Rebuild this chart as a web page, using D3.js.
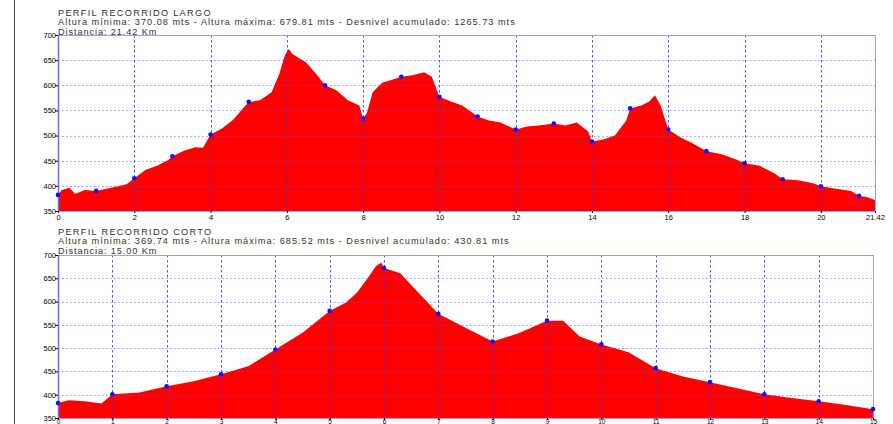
<!DOCTYPE html>
<html><head><meta charset="utf-8">
<script src="https://cdn.jsdelivr.net/npm/d3@7"></script>
<style>
html,body{margin:0;padding:0;background:#fff;}
svg{display:block;font-family:"Liberation Sans",Arial,sans-serif;}
</style></head>
<body>
<svg id="c" width="893" height="424"></svg>
<script>
// ---- Data: long route (km, altitude m) ----
const longDist = [0,0.1,0.3,0.45,0.7,1,1.4,1.8,2,2.3,2.6,2.9,3,3.3,3.6,3.8,4,4.3,4.6,4.8,5,5.3,5.6,5.8,5.95,6.05,6.15,6.3,6.5,6.8,7,7.3,7.6,7.9,8,8.1,8.25,8.5,8.8,9,9.3,9.6,9.8,10,10.3,10.6,11,11.3,11.6,12,12.3,12.6,13,13.3,13.6,13.9,14,14.3,14.6,14.9,15,15.3,15.5,15.65,15.8,16,16.3,16.6,17,17.4,17.8,18,18.4,18.8,19,19.4,19.8,20,20.4,20.8,21,21.2,21.42];
const longAlt  = [382,392,396,384,392,390,396,403,415,432,440,452,459,470,477,476,502,514,532,550,567,570,586,622,660,672,662,655,646,620,600,590,570,560,534,545,586,605,612,617,620,626,617,577,568,560,538,530,526,512,518,520,524,520,526,508,488,492,500,530,554,560,568,580,560,512,497,486,469,463,452,445,440,424,413,411,405,399,394,390,380,378,372];
// ---- Data: short route ----
const shortDist = [0,0.2,0.5,0.8,1,1.5,2,2.5,3,3.5,4,4.5,5,5.3,5.5,5.7,5.85,5.95,6,6.3,6.6,7,7.5,8,8.5,9,9.3,9.6,10,10.5,11,11.5,12,12.5,13,13.5,14,14.5,15];
const shortAlt  = [382,388,386,381,401,405,418,429,444,461,497,533,580,598,619,650,676,684,672,661,623,574,544,514,533,559,559,525,508,491,457,439,427,414,401,393,386,378,369];

const longTitle  = ["PERFIL RECORRIDO LARGO",
  "Altura mínima: 370.08 mts - Altura máxima: 679.81 mts - Desnivel acumulado: 1265.73 mts",
  "Distancia: 21.42 Km"];
const shortTitle = ["PERFIL RECORRIDO CORTO",
  "Altura mínima: 369.74 mts - Altura máxima: 685.52 mts - Desnivel acumulado: 430.81 mts",
  "Distancia: 15.00 Km"];
const yTicks = [350,400,450,500,550,600,650,700];
const longXTicks  = [0,2,4,6,8,10,12,14,16,18,20,21.42];
const shortXTicks = [0,1,2,3,4,5,6,7,8,9,10,11,12,13,14,15];

const svg = d3.select("#c");

// page left border
svg.append("line").attr("x1",14.5).attr("x2",14.5).attr("y1",0).attr("y2",424)
  .attr("stroke","#444").attr("stroke-width",1);

function panel(cfg){
  const {dist, alt, xTicks, xMax, left, right, top, bottom, titles, titleY, labelY, labelSize} = cfg;
  const x = d3.scaleLinear().domain([0,xMax]).range([left,right]);
  const y = d3.scaleLinear().domain([350,700]).range([bottom,top]);
  const g = svg.append("g");
  const pts = dist.map((d,i)=>({d, a:alt[i]}));

  // titles
  const spacing = [1.3, 1.0, 0.9];
  titles.forEach((t,i)=>{
    g.append("text").attr("x",58).attr("y",titleY+i*9.3)
      .attr("font-size",9.2).attr("fill","#333").attr("letter-spacing",spacing[i]).text(t);
  });

  // area
  g.append("path").datum(pts)
    .attr("d", d3.area().x(p=>x(p.d)).y0(bottom).y1(p=>y(p.a)))
    .attr("fill","#ff0000");

  // horizontal grid (dotted)
  g.append("g").selectAll("line").data(yTicks.slice(1,-1)).join("line")
    .attr("x1",left).attr("x2",right).attr("y1",v=>Math.round(y(v))+0.5).attr("y2",v=>Math.round(y(v))+0.5)
    .attr("stroke","#5555ff").attr("stroke-opacity",0.65).attr("stroke-width",1).attr("stroke-dasharray","1.5,2.5");
  // vertical grid (dashed)
  g.append("g").selectAll("line").data(xTicks.filter(v=>v>0 && v<xMax)).join("line")
    .attr("x1",v=>Math.round(x(v))+0.5).attr("x2",v=>Math.round(x(v))+0.5).attr("y1",top).attr("y2",bottom)
    .attr("stroke","#3333ff").attr("stroke-opacity",0.85).attr("stroke-width",1).attr("stroke-dasharray","2.5,2.5");

  // frame
  g.append("rect").attr("x",left+0.5).attr("y",top+0.5).attr("width",right-left).attr("height",bottom-top)
    .attr("fill","none").attr("stroke","#9b9bff").attr("stroke-width",1);
  g.append("line").attr("x1",left+0.5).attr("x2",left+0.5).attr("y1",top).attr("y2",bottom)
    .attr("stroke","#6a6aff").attr("stroke-width",1.5);

  // km dots
  g.append("g").selectAll("circle").data(pts.filter(p=>Number.isInteger(p.d))).join("circle")
    .attr("cx",p=>x(p.d)).attr("cy",p=>y(p.a)).attr("r",2.3).attr("fill","#1010ff");

  // axes
  const ya = d3.axisLeft(y).tickValues(yTicks).tickSize(3).tickFormat(d3.format("d"));
  const ay = g.append("g").attr("transform",`translate(${left},0)`).call(ya);
  ay.select(".domain").remove();
  ay.selectAll("line").attr("stroke","#000");
  ay.selectAll("text").attr("font-size",7.5).attr("fill","#000").attr("x",-2)
    .attr("font-family","Liberation Sans, Arial, sans-serif");

  const xa = d3.axisBottom(x).tickValues(xTicks).tickSize(2)
    .tickFormat(v=>Number.isInteger(v)?String(v):v.toFixed(2));
  const ax = g.append("g").attr("transform",`translate(0,${bottom})`).call(xa);
  ax.select(".domain").attr("stroke","#9b9bff");
  ax.selectAll("line").attr("stroke","#000");
  ax.selectAll("text").attr("font-size",labelSize).attr("fill","#000")
    .attr("y",labelY).attr("dy",0)
    .attr("font-family","Liberation Sans, Arial, sans-serif");
}

panel({dist:longDist, alt:longAlt, xTicks:longXTicks, xMax:21.42,
  left:58, right:875, top:35, bottom:211, titles:longTitle, titleY:16, labelY:9, labelSize:7.5});
panel({dist:shortDist, alt:shortAlt, xTicks:shortXTicks, xMax:15,
  left:58, right:873, top:255, bottom:418, titles:shortTitle, titleY:235, labelY:6, labelSize:6.5});
</script>
</body></html>
